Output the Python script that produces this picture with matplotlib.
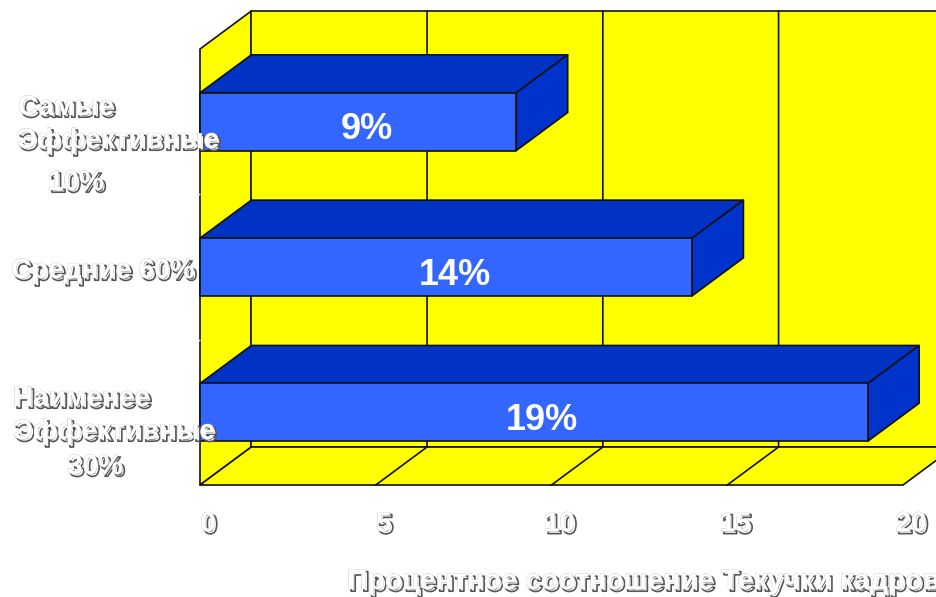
import matplotlib
matplotlib.use("Agg")
import matplotlib.pyplot as plt
import matplotlib.patheffects as pe
from matplotlib.transforms import ScaledTranslation

plt.rcParams['font.family'] = ['Liberation Sans', 'DejaVu Sans']
plt.rcParams['font.weight'] = 'bold'

# Data
groups = ['Самые эффективные', 'Средние', 'Наименее эффективные']
turnover = [9, 14, 19]
x_ticks = [0, 5, 10, 15, 20]
x_label = 'Процентное соотношение Текучки кадров'

# Group captions: text, x px, y px
captions = [
    ('Самые', 18, 108),
    ('Эффективные', 17, 141),
    ('10%', 48, 183),
    ('Средние 60%', 11, 271),
    ('Наименее', 13, 399),
    ('Эффективные', 13, 432),
    ('30%', 67, 467),
]

# Styles
WALL = '#FFFF00'
FRONT = '#3366FF'
TOP = '#0033C4'
SIDE = '#0033CC'
EDGE = '#111111'
LW = 1.2
BAR_H = 0.397
DX = 1.46   # depth offset in x units
DY = 0.2615  # depth offset in category units

W, H = 937, 597
text_fx = [
    pe.Stroke(linewidth=1.2, foreground='#555555', offset=(1.6, -1.6)),
    pe.Stroke(linewidth=0.4, foreground='#b0b0b0'),
    pe.Normal(),
]

fig = plt.figure(figsize=(W / 100, H / 100), dpi=100, facecolor='white')
ax = fig.add_axes([200 / W, (H - 485) / H, 703 / W, 436 / H])
ax.set_xlim(0, 20)
ax.set_ylim(3, 0)
for s in ax.spines.values():
    s.set_visible(False)
ax.patch.set_visible(False)


def poly(pts, color, z):
    ax.fill(*zip(*pts), facecolor=color, edgecolor=EDGE, linewidth=LW,
            joinstyle='round', clip_on=False, zorder=z)


def back(x, y):
    return (x + DX, y - DY)


# Walls and floor
x_max, y_max = x_ticks[-1], len(groups)
poly([(0, 0), back(0, 0), back(0, y_max), (0, y_max)], WALL, 1)
poly([back(0, 0), back(x_max, 0), back(x_max, y_max), back(0, y_max)], WALL, 1)
poly([(0, y_max), back(0, y_max), back(x_max, y_max), (x_max, y_max)], WALL, 1)

# Grid lines on back wall and floor
for t in x_ticks[1:-1]:
    ax.plot(*zip(back(t, 0), back(t, y_max), (t, y_max)), color=EDGE, lw=LW,
            clip_on=False, zorder=2)

# 3D bars
for i, v in enumerate(turnover):
    c = i + 0.5
    y0, y1 = c - BAR_H / 2, c + BAR_H / 2
    poly([(0, y0), back(0, y0), back(v, y0), (v, y0)], TOP, 3)
    poly([(v, y0), back(v, y0), back(v, y1), (v, y1)], SIDE, 3)
    poly([(0, y0), (v, y0), (v, y1), (0, y1)], FRONT, 4)
    ax.annotate(f'{v}%', (v / 2, c), xytext=(6, -6), textcoords='offset points',
                color='white', fontsize=26, ha='center', va='center', zorder=5)

# Axis ticks
ax.set_yticks([1, 2])
ax.set_yticklabels([])
ax.tick_params(axis='y', length=3, width=1, color='white', direction='out')
ax.set_xticks(x_ticks)
ax.set_xticklabels([str(t) for t in x_ticks], fontsize=20, color='white')
ax.tick_params(axis='x', length=0, pad=19)
shift = ScaledTranslation(8 / 100, 0, fig.dpi_scale_trans)
for lab in ax.get_xticklabels():
    lab.set_transform(lab.get_transform() + shift)
    lab.set_path_effects(text_fx)

# Captions and axis title
for s, x, y in captions:
    fig.text(x / W, 1 - y / H, s, color='white', fontsize=20.1, ha='left',
             va='center', path_effects=text_fx, zorder=6)
fig.text(347 / W, 1 - 582 / H, x_label, color='white', fontsize=20.5, ha='left',
         va='center', path_effects=text_fx, zorder=6)

fig.savefig('out.png', dpi=100, facecolor='white')
